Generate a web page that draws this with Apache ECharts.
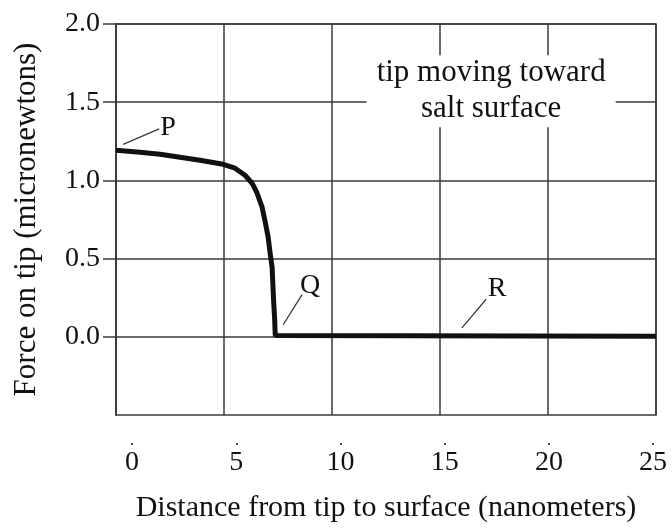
<!DOCTYPE html>
<html>
<head>
<meta charset="utf-8">
<script src="https://cdn.jsdelivr.net/npm/echarts@6/dist/echarts.min.js"></script>
<style>
  html, body { margin: 0; padding: 0; background: #fff; }
  #chart { width: 672px; height: 529px; }
</style>
</head>
<body>
<div id="chart"></div>
<script>
// curve: distance (nm) vs force (micronewtons)
const distance = [-0.77, 0.38, 1.34, 2.30, 3.26, 4.37, 4.94, 5.42, 5.76, 6.00, 6.24, 6.38, 6.53, 6.62, 6.72, 6.79, 6.84, 6.87, 7.0, 25.14];
const force    = [1.193, 1.180, 1.167, 1.148, 1.129, 1.103, 1.078, 1.033, 0.982, 0.918, 0.829, 0.74, 0.638, 0.54, 0.446, 0.236, 0.12, 0.013, 0.008, 0.003];

const xTicks = [0, 5, 10, 15, 20, 25];
const yTicks = [0, 0.5, 1, 1.5, 2];

// point labels and their leader lines, in data units
const pointNames = ['P', 'Q', 'R'];
const pointTextX = [1.73, 8.54, 17.51];
const pointTextY = [1.34, 0.33, 0.31];
const leaderFrom = [[-0.43, 1.23], [7.25, 0.077], [15.83, 0.057]];
const leaderTo   = [[1.30, 1.33], [8.16, 0.27], [16.99, 0.24]];

const noteText = 'tip moving toward\nsalt surface';
const notePos = [17.23, 1.57];

const serif = 'Liberation Serif';
const ink = '#111';
const gridInk = '#3a3a3a';

const chart = echarts.init(document.getElementById('chart'));

const noteData = pointNames.map((n, i) => ({ value: [pointTextX[i], pointTextY[i]], name: n }));
noteData.push({
    value: notePos,
    name: noteText,
    label: {
        backgroundColor: '#fff',
        padding: [0, 10],
        lineHeight: 36,
        fontSize: 31
    }
});

chart.setOption({
    animation: false,
    grid: {
        left: 116,
        right: 16,
        top: 24,
        bottom: 114,
        show: true,
        borderColor: gridInk,
        borderWidth: 1.5
    },
    xAxis: [
        {
            type: 'value',
            min: -0.77,
            max: 25.14,
            offset: 28,
            axisLine: { show: false, onZero: false },
            axisTick: {
                show: true,
                customValues: xTicks,
                length: 2,
                lineStyle: { color: ink, width: 1.5 }
            },
            axisLabel: {
                customValues: xTicks,
                margin: 6,
                color: ink,
                fontFamily: serif,
                fontSize: 28
            },
            splitLine: { show: false },
            name: 'Distance from tip to surface (nanometers)',
            nameLocation: 'middle',
            nameGap: 50,
            nameTextStyle: { color: ink, fontFamily: serif, fontSize: 30 }
        },
        {
            // only here to draw the evenly spaced vertical grid
            type: 'value',
            position: 'bottom',
            min: 0,
            max: 5,
            interval: 1,
            axisLine: { show: false, onZero: false },
            axisTick: { show: false },
            axisLabel: { show: false },
            splitLine: { show: true, lineStyle: { color: gridInk, width: 1.5 } }
        }
    ],
    yAxis: {
        type: 'value',
        min: -0.5,
        max: 2,
        interval: 0.5,
        axisLine: { show: true, onZero: false, lineStyle: { color: gridInk, width: 1.5 } },
        axisTick: {
            show: true,
            customValues: yTicks,
            length: 13,
            lineStyle: { color: gridInk, width: 1.5 }
        },
        axisLabel: {
            customValues: yTicks,
            margin: 16,
            color: ink,
            fontFamily: serif,
            fontSize: 28,
            formatter: (v) => v.toFixed(1)
        },
        splitLine: { show: true, lineStyle: { color: gridInk, width: 1.5 } },
        name: 'Force on tip (micronewtons)',
        nameLocation: 'middle',
        nameGap: 74,
        nameTextStyle: { color: ink, fontFamily: serif, fontSize: 31 }
    },
    series: [
        {
            name: 'force',
            type: 'line',
            xAxisIndex: 0,
            data: distance.map((d, i) => [d, force[i]]),
            showSymbol: false,
            smooth: false,
            lineStyle: { color: '#111', width: 5, join: 'round' },
            z: 3
        },
        {
            name: 'notes',
            type: 'scatter',
            xAxisIndex: 0,
            symbolSize: 0,
            itemStyle: { opacity: 1 },
            data: noteData,
            label: {
                show: true,
                position: 'inside',
                formatter: (p) => p.name,
                color: ink,
                opacity: 1,
                fontFamily: serif,
                fontSize: 28
            },
            markLine: {
                silent: true,
                symbol: 'none',
                label: { show: false },
                lineStyle: { color: gridInk, width: 1.3, type: 'solid' },
                data: leaderFrom.map((a, i) => [{ coord: a }, { coord: leaderTo[i] }])
            },
            z: 4
        }
    ]
});
</script>
</body>
</html>
